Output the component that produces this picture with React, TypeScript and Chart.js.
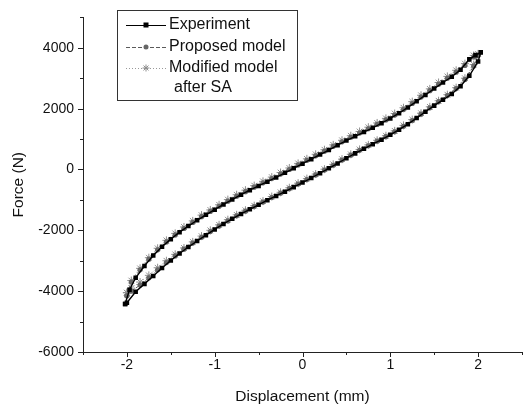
import React, { useEffect, useRef } from 'react';
import { Chart, registerables } from 'chart.js';

Chart.register(...registerables);

// ---------------- data ----------------
const seriesNames = ['Experiment', 'Proposed model', 'Modified model after SA'];
const legendLines = [['Experiment'], ['Proposed model'], ['Modified model', 'after SA']];

// Experiment: loading branch (x ascending) then unloading branch (x descending)
const expLowerX = [-2.02, -2.0, -1.9, -1.8, -1.7, -1.6, -1.5, -1.4, -1.3, -1.2, -1.1, -1.0, -0.9, -0.8, -0.7, -0.6, -0.5, -0.4, -0.3, -0.2, -0.1, 0.0, 0.1, 0.2, 0.3, 0.4, 0.5, 0.6, 0.7, 0.8, 0.9, 1.0, 1.1, 1.2, 1.3, 1.4, 1.5, 1.6, 1.7, 1.8, 1.9, 2.0, 2.03];
const expLowerY = [-4420, -4380, -4020, -3760, -3500, -3240, -2990, -2760, -2550, -2350, -2160, -1970, -1790, -1620, -1460, -1310, -1160, -1010, -870, -730, -580, -430, -280, -120, 40, 200, 370, 530, 680, 830, 980, 1140, 1310, 1490, 1690, 1900, 2100, 2290, 2480, 2740, 3080, 3550, 3850];
const expUpperX = [1.97, 1.9, 1.8, 1.7, 1.6, 1.5, 1.4, 1.3, 1.2, 1.1, 1.0, 0.9, 0.8, 0.7, 0.6, 0.5, 0.4, 0.3, 0.2, 0.1, 0.0, -0.1, -0.2, -0.3, -0.4, -0.5, -0.6, -0.7, -0.8, -0.9, -1.0, -1.1, -1.2, -1.3, -1.4, -1.5, -1.6, -1.7, -1.8, -1.9, -1.97, -2.02];
const expUpperY = [3760, 3620, 3280, 3050, 2860, 2660, 2450, 2240, 2040, 1850, 1680, 1520, 1370, 1230, 1090, 950, 800, 640, 490, 340, 190, 40, -110, -260, -400, -540, -680, -830, -990, -1150, -1320, -1490, -1670, -1860, -2060, -2290, -2540, -2830, -3170, -3560, -3950, -4420];

// Proposed model
const propLowerX = [-2.0, -1.95, -1.85, -1.75, -1.65, -1.55, -1.45, -1.35, -1.25, -1.15, -1.05, -0.95, -0.85, -0.75, -0.65, -0.55, -0.45, -0.35, -0.25, -0.15, -0.05, 0.05, 0.15, 0.25, 0.35, 0.45, 0.55, 0.65, 0.75, 0.85, 0.95, 1.05, 1.15, 1.25, 1.35, 1.45, 1.55, 1.65, 1.75, 1.85, 1.95, 2.0];
const propLowerY = [-4150, -4000, -3800, -3560, -3300, -3060, -2840, -2620, -2420, -2230, -2040, -1860, -1690, -1520, -1370, -1220, -1070, -920, -780, -630, -480, -330, -180, -20, 140, 310, 470, 630, 780, 930, 1080, 1240, 1420, 1610, 1820, 2030, 2230, 2430, 2660, 2960, 3400, 3750];
const propUpperX = [1.95, 1.85, 1.75, 1.65, 1.55, 1.45, 1.35, 1.25, 1.15, 1.05, 0.95, 0.85, 0.75, 0.65, 0.55, 0.45, 0.35, 0.25, 0.15, 0.05, -0.05, -0.15, -0.25, -0.35, -0.45, -0.55, -0.65, -0.75, -0.85, -0.95, -1.05, -1.15, -1.25, -1.35, -1.45, -1.55, -1.65, -1.75, -1.85, -1.95, -2.0];
const propUpperY = [3700, 3420, 3200, 3000, 2800, 2590, 2380, 2170, 1970, 1790, 1630, 1480, 1340, 1200, 1060, 910, 760, 600, 450, 300, 150, 0, -150, -300, -440, -580, -730, -880, -1040, -1210, -1380, -1550, -1740, -1940, -2150, -2380, -2640, -2950, -3300, -3700, -4150];

// Modified model after SA
const modLowerX = [-2.0, -1.95, -1.85, -1.75, -1.65, -1.55, -1.45, -1.35, -1.25, -1.15, -1.05, -0.95, -0.85, -0.75, -0.65, -0.55, -0.45, -0.35, -0.25, -0.15, -0.05, 0.05, 0.15, 0.25, 0.35, 0.45, 0.55, 0.65, 0.75, 0.85, 0.95, 1.05, 1.15, 1.25, 1.35, 1.45, 1.55, 1.65, 1.75, 1.85, 1.95, 2.0];
const modLowerY = [-4050, -3900, -3700, -3480, -3230, -3000, -2790, -2580, -2380, -2190, -2000, -1820, -1650, -1490, -1340, -1190, -1040, -890, -750, -600, -450, -300, -150, 10, 170, 340, 500, 660, 810, 960, 1110, 1270, 1450, 1640, 1850, 2060, 2260, 2460, 2690, 3000, 3450, 3800];
const modUpperX = [1.95, 1.85, 1.75, 1.65, 1.55, 1.45, 1.35, 1.25, 1.15, 1.05, 0.95, 0.85, 0.75, 0.65, 0.55, 0.45, 0.35, 0.25, 0.15, 0.05, -0.05, -0.15, -0.25, -0.35, -0.45, -0.55, -0.65, -0.75, -0.85, -0.95, -1.05, -1.15, -1.25, -1.35, -1.45, -1.55, -1.65, -1.75, -1.85, -1.95, -2.0];
const modUpperY = [3750, 3480, 3260, 3060, 2860, 2650, 2440, 2230, 2030, 1840, 1680, 1530, 1390, 1250, 1110, 960, 810, 650, 500, 350, 200, 50, -100, -250, -390, -530, -680, -830, -990, -1160, -1330, -1500, -1690, -1890, -2100, -2330, -2590, -2900, -3250, -3650, -4050];

// axis ticks
const xTickValues = [-2.5, -2, -1.5, -1, -0.5, 0, 0.5, 1, 1.5, 2, 2.5];
const xTickLabels = ['', '-2', '', '-1', '', '0', '', '1', '', '2', ''];
const yTickValues = [-6000, -5000, -4000, -3000, -2000, -1000, 0, 1000, 2000, 3000, 4000, 5000];
const yTickLabels = ['-6000', '', '-4000', '', '-2000', '', '0', '', '2000', '', '4000', ''];

const FONT = "'Liberation Sans', Arial, Helvetica, sans-serif";

function loop(lx: number[], ly: number[], ux: number[], uy: number[]) {
  const pts = lx.map((x, i) => ({ x, y: ly[i] }));
  return pts.concat(ux.map((x, i) => ({ x, y: uy[i] })));
}

const tickPlugin = {
  id: 'minorTicks',
  afterDraw(chart: any) {
    const ctx = chart.ctx;
    const xs = chart.scales.x;
    const ys = chart.scales.y;
    const ca = chart.chartArea;
    ctx.save();
    ctx.strokeStyle = '#222';
    ctx.lineWidth = 1;
    xTickValues.forEach((v, i) => {
      const px = Math.round(xs.getPixelForValue(v)) + 0.5;
      const len = xTickLabels[i] ? 5 : 3;
      ctx.beginPath();
      ctx.moveTo(px, ca.bottom);
      ctx.lineTo(px, ca.bottom + len);
      ctx.stroke();
    });
    yTickValues.forEach((v, i) => {
      const py = Math.round(ys.getPixelForValue(v)) + 0.5;
      const len = yTickLabels[i] ? 5 : 3;
      ctx.beginPath();
      ctx.moveTo(ca.left, py);
      ctx.lineTo(ca.left - len, py);
      ctx.stroke();
    });
    ctx.restore();
  },
};

function drawMarker(ctx: CanvasRenderingContext2D, style: string, x: number, y: number, color: string) {
  ctx.save();
  ctx.fillStyle = color;
  ctx.strokeStyle = color;
  ctx.lineWidth = 1;
  if (style === 'rect') {
    ctx.fillRect(x - 2.5, y - 2.5, 5, 5);
  } else if (style === 'circle') {
    ctx.beginPath();
    ctx.arc(x, y, 2.5, 0, Math.PI * 2);
    ctx.fill();
  } else {
    const r = 3.5;
    ctx.beginPath();
    ctx.moveTo(x - r, y); ctx.lineTo(x + r, y);
    ctx.moveTo(x, y - r); ctx.lineTo(x, y + r);
    const d = r * Math.SQRT1_2;
    ctx.moveTo(x - d, y - d); ctx.lineTo(x + d, y + d);
    ctx.moveTo(x - d, y + d); ctx.lineTo(x + d, y - d);
    ctx.stroke();
  }
  ctx.restore();
}

const legendPlugin = {
  id: 'boxLegend',
  afterDraw(chart: any) {
    const ctx = chart.ctx;
    const left = 117, top = 10, right = 297, bottom = 100;
    ctx.save();
    ctx.strokeStyle = '#333';
    ctx.lineWidth = 1;
    ctx.strokeRect(left + 0.5, top + 0.5, right - left, bottom - top);
    ctx.font = `16px ${FONT}`;
    ctx.textBaseline = 'middle';
    ctx.fillStyle = '#111';
    const rows = [25, 47, 68];
    chart.data.datasets.forEach((ds: any, i: number) => {
      const y = rows[i];
      ctx.save();
      ctx.strokeStyle = ds.borderColor;
      ctx.lineWidth = 1;
      ctx.setLineDash(ds.borderDash || []);
      ctx.beginPath();
      ctx.moveTo(126, y + 0.5);
      ctx.lineTo(166, y + 0.5);
      ctx.stroke();
      ctx.restore();
      drawMarker(ctx, ds.pointStyle, 146, y, ds.pointBorderColor);
      const lines = legendLines[i];
      lines.forEach((t, j) => {
        ctx.fillText(t, 169 + (j > 0 ? 5 : 0), y + j * 20);
      });
    });
    ctx.restore();
  },
};

export default function App() {
  const ref = useRef<HTMLCanvasElement | null>(null);
  useEffect(() => {
    if (!ref.current) return;
    const chart = new Chart(ref.current, {
      type: 'scatter',
      data: {
        datasets: [
          {
            label: seriesNames[0],
            data: loop(expLowerX, expLowerY, expUpperX, expUpperY),
            showLine: true,
            borderColor: '#000',
            borderWidth: 1.4,
            pointStyle: 'rect',
            pointRadius: 3.2,
            pointBackgroundColor: '#000',
            pointBorderColor: '#000',
            pointBorderWidth: 0,
          },
          {
            label: seriesNames[1],
            data: loop(propLowerX, propLowerY, propUpperX, propUpperY),
            showLine: true,
            borderColor: '#5a5a5a',
            borderWidth: 1,
            borderDash: [4, 2],
            pointStyle: 'circle',
            pointRadius: 2.6,
            pointBackgroundColor: '#666',
            pointBorderColor: '#666',
            pointBorderWidth: 0,
          },
          {
            label: seriesNames[2],
            data: loop(modLowerX, modLowerY, modUpperX, modUpperY),
            showLine: true,
            borderColor: '#999',
            borderWidth: 1,
            borderDash: [1, 2],
            pointStyle: 'star',
            pointRadius: 4,
            pointBackgroundColor: 'rgba(0,0,0,0)',
            pointBorderColor: '#8f8f8f',
            pointBorderWidth: 1,
          },
        ],
      },
      options: {
        responsive: false,
        animation: false,
        devicePixelRatio: 1,
        layout: { padding: { top: 13, right: 0, left: 0, bottom: 0 } },
        plugins: {
          legend: { display: false },
          tooltip: { enabled: false },
        },
        scales: {
          x: {
            type: 'linear',
            min: -2.5,
            max: 2.5,
            afterBuildTicks: (s: any) => {
              s.ticks = xTickValues.map((v) => ({ value: v }));
            },
            afterFit: (s: any) => {
              s.height = 57;
            },
            ticks: {
              autoSkip: false,
              maxRotation: 0,
              padding: 5,
              color: '#111',
              font: { family: FONT, size: 14 },
              callback: (_v: any, i: number) => xTickLabels[i],
            },
            grid: { display: true, drawOnChartArea: false, drawTicks: false },
            border: { display: true, color: '#222', width: 1 },
            title: {
              display: true,
              text: 'Displacement (mm)',
              color: '#111',
              font: { family: FONT, size: 15.5 },
              padding: { top: 0, bottom: 3 },
            },
          },
          y: {
            type: 'linear',
            min: -6000,
            max: 5000,
            afterBuildTicks: (s: any) => {
              s.ticks = yTickValues.map((v) => ({ value: v }));
            },
            afterFit: (s: any) => {
              s.width = 83;
            },
            ticks: {
              autoSkip: false,
              padding: 9,
              color: '#111',
              font: { family: FONT, size: 14 },
              callback: (_v: any, i: number) => yTickLabels[i],
            },
            grid: { display: true, drawOnChartArea: false, drawTicks: false },
            border: { display: true, color: '#222', width: 1 },
            title: {
              display: true,
              text: 'Force (N)',
              color: '#111',
              font: { family: FONT, size: 15.5 },
              padding: { top: 9, bottom: 0 },
            },
          },
        },
      },
      plugins: [tickPlugin, legendPlugin],
    });
    return () => chart.destroy();
  }, []);
  return (
    <div style={{ position: 'fixed', left: 0, top: 0, width: 527, height: 409, background: '#fff' }}>
      <canvas ref={ref} width={527} height={409} style={{ display: 'block', width: 527, height: 409 }} />
    </div>
  );
}
